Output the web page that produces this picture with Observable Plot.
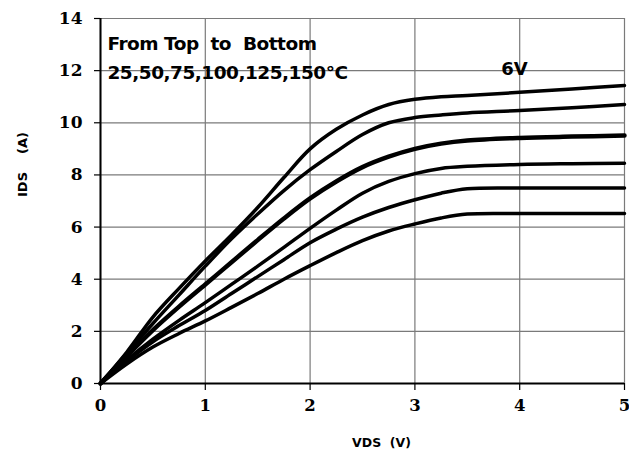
<!DOCTYPE html>
<html>
<head>
<meta charset="utf-8">
<script src="https://cdn.jsdelivr.net/npm/d3@7"></script>
<script src="https://cdn.jsdelivr.net/npm/@observablehq/plot@0.6"></script>
<style>
  html, body { margin: 0; padding: 0; background: #fff; }
  svg { display: block; }
</style>
</head>
<body>
<div id="chart"></div>
<script>
const vds = [0, 0.25, 0.5, 0.75, 1, 1.25, 1.5, 1.75, 2, 2.25, 2.5, 2.75, 3, 3.25, 3.5, 4, 4.5, 5];
const temps = ["25°C", "50°C", "75°C", "100°C", "125°C", "150°C"];
const ids25  = [0, 1.2, 2.55, 3.65, 4.7, 5.7, 6.75, 7.9, 9.0, 9.75, 10.3, 10.7, 10.9, 11.0, 11.05, 11.17, 11.3, 11.43];
const ids50  = [0, 1.15, 2.3, 3.4, 4.5, 5.55, 6.5, 7.4, 8.2, 8.9, 9.55, 10.0, 10.2, 10.3, 10.38, 10.47, 10.58, 10.7];
const ids75  = [0, 1.05, 2.05, 2.95, 3.8, 4.65, 5.5, 6.33, 7.1, 7.75, 8.3, 8.7, 9.0, 9.2, 9.32, 9.42, 9.47, 9.51];
const ids100 = [0, 0.9, 1.7, 2.42, 3.1, 3.8, 4.5, 5.22, 5.95, 6.65, 7.3, 7.75, 8.05, 8.25, 8.33, 8.4, 8.43, 8.45];
const ids125 = [0, 0.85, 1.6, 2.22, 2.8, 3.45, 4.1, 4.75, 5.4, 5.92, 6.38, 6.75, 7.05, 7.3, 7.47, 7.5, 7.5, 7.5];
const ids150 = [0, 0.75, 1.4, 1.92, 2.4, 2.92, 3.45, 4.0, 4.52, 5.02, 5.48, 5.85, 6.12, 6.35, 6.5, 6.52, 6.52, 6.52];
const series = [ids25, ids50, ids75, ids100, ids125, ids150];
const xTicks = [0, 1, 2, 3, 4, 5];
const yTicks = [0, 2, 4, 6, 8, 10, 12, 14];
const noteLines = ["From\u00a0Top\u00a0\u00a0to\u00a0\u00a0Bottom", "25,50,75,100,125,150°C"];
const gateLabel = "6V";
const xLabel = "VDS\u00a0\u00a0(V)";
const yLabel = "IDS\u00a0\u00a0\u00a0\u00a0(A)";

const rows = [];
series.forEach((s, i) => s.forEach((v, j) => rows.push({temp: temps[i], vds: vds[j], ids: v})));

const sansBold = {fontFamily: "DejaVu Sans", fontWeight: "bold"};

const lineMarks = temps.map((t, i) =>
  Plot.line(rows.filter(r => r.temp === t), {
    x: "vds", y: "ids", stroke: "black",
    strokeWidth: i === 2 ? 4.5 : 3.5,
    curve: "catmull-rom", strokeLinejoin: "round", strokeLinecap: "round"
  })
);

const chart = Plot.plot({
  width: 629, height: 456,
  marginLeft: 100, marginRight: 5, marginTop: 18, marginBottom: 73,
  x: {domain: [0, 5]},
  y: {domain: [0, 14]},
  marks: [
    Plot.gridX(xTicks, {stroke: "#7a7a7a", strokeOpacity: 1, strokeWidth: 1.2}),
    Plot.gridY(yTicks, {stroke: "#7a7a7a", strokeOpacity: 1, strokeWidth: 1.2}),
    Plot.ruleX([0], {stroke: "black", strokeWidth: 2}),
    Plot.ruleY([0], {stroke: "black", strokeWidth: 2}),
    Plot.axisX(xTicks, {tickSize: 7, tickPadding: 9, label: null, fontSize: 16.5,
      fontFamily: "DejaVu Serif", fontWeight: "bold", stroke: "black", strokeWidth: 1.2, color: "black"}),
    Plot.axisY(yTicks, {tickSize: 6, tickPadding: 12, label: null, fontSize: 17,
      fontFamily: "DejaVu Serif", fontWeight: "bold", stroke: "black", strokeWidth: 1.2, color: "black"}),
    ...lineMarks,
    Plot.text([noteLines[0]], {frameAnchor: "top-left", dx: 7, dy: 18, fontSize: 18.5, textAnchor: "start", ...sansBold}),
    Plot.text([noteLines[1]], {frameAnchor: "top-left", dx: 7, dy: 47, fontSize: 18.5, textAnchor: "start", ...sansBold}),
    Plot.text([gateLabel], {x: 3.95, y: 12, dy: -1, fontSize: 18, ...sansBold}),
    Plot.text([xLabel], {frameAnchor: "bottom", dx: 19, dy: 63, fontSize: 12.5, ...sansBold}),
    Plot.text([yLabel], {frameAnchor: "left", dx: -78, dy: -4, rotate: -90, fontSize: 13, ...sansBold})
  ]
});
d3.select(chart).selectAll("text")
  .filter(function() { return noteLines.includes(this.textContent); })
  .attr("letter-spacing", "-0.5");
document.getElementById("chart").appendChild(chart);
</script>
</body>
</html>
